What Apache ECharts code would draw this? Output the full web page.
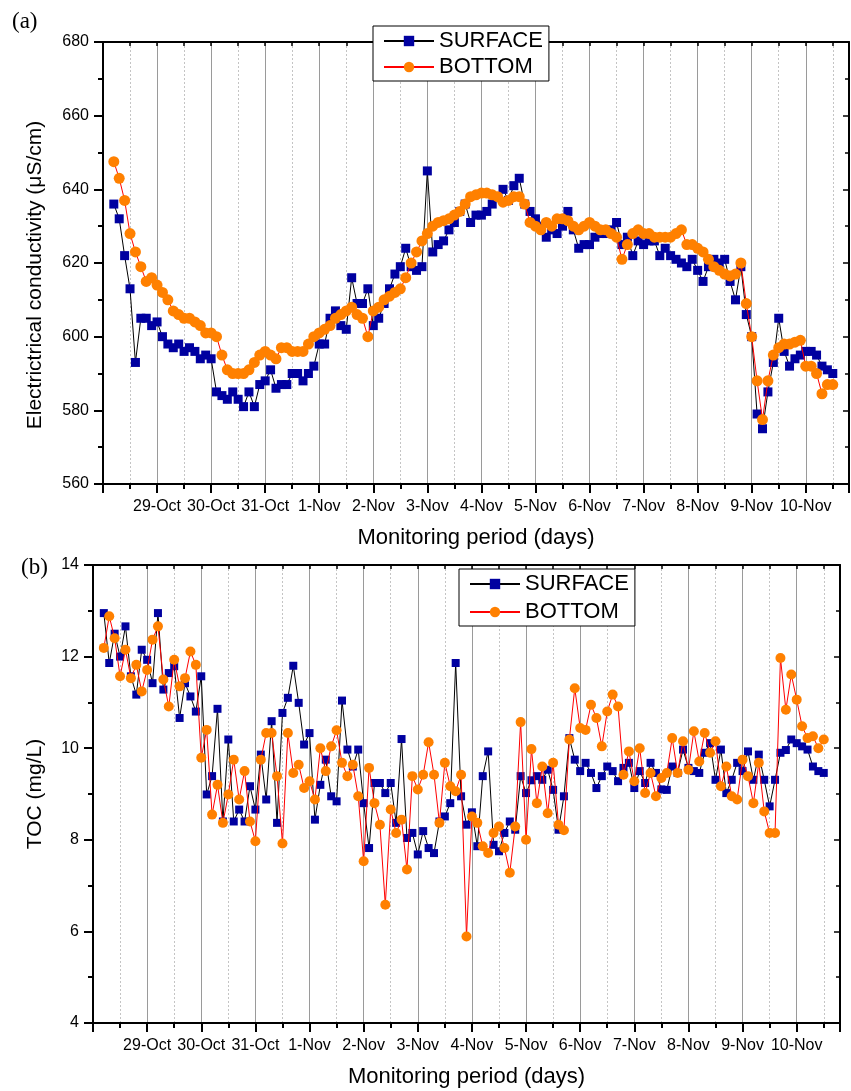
<!DOCTYPE html>
<html>
<head>
<meta charset="utf-8">
<script src="https://cdn.jsdelivr.net/npm/echarts@6.0.0/dist/echarts.min.js"></script>
<style>
  html, body { margin: 0; padding: 0; background: #fff; }
  #main { width: 851px; height: 1091px; }
</style>
</head>
<body>
<div id="main"></div>
<script>
// sampling: first sample at day 0.2 (28-Oct 00:00 = day 0), one sample every 0.1 day
var sampleStart = 0.2
var sampleStep = 0.1

// tick labels, index = day number
var dayLabels = ['', '29-Oct', '30-Oct', '31-Oct', '1-Nov', '2-Nov', '3-Nov', '4-Nov',
  '5-Nov', '6-Nov', '7-Nov', '8-Nov', '9-Nov', '10-Nov']

// (a) electrical conductivity, uS/cm
var ecSurface = [
  636, 632, 622, 613, 593, 605, 605, 603,
  604, 600, 598, 597, 598, 596, 597, 596, 594, 595,
  594, 585, 584, 583, 585, 583, 581, 585, 581, 587,
  588, 591, 586, 587, 587, 590, 590, 588, 590, 592,
  598, 598, 605, 607, 603, 602, 616, 609, 609, 613,
  603, 605, 609, 613, 617, 619, 624, 619, 618, 619,
  645, 623, 625, 626, 629, 631, 634, 636, 631, 633,
  633, 634, 636, 638, 640, 637, 641, 643, 636, 634,
  632, 630, 627, 629, 628, 630, 634, 629, 624, 625,
  625, 627, 628, 628, 629, 631, 625, 627, 622, 626,
  625, 626, 626, 622, 624, 622, 621, 620, 619, 621,
  618, 615, 619, 621, 620, 621, 615, 610, 619, 606,
  600, 579, 575, 585, 593, 605, 596, 592, 594, 595,
  596, 596, 595, 592, 591, 590
]
var ecBottom = [
  647.5, 643, 637, 628, 623, 619, 615, 616,
  614, 612, 610, 607, 606, 605, 605, 604, 603, 601,
  601, 600, 595, 591, 590, 590, 590, 591, 593, 595,
  596, 595, 594, 597, 597, 596, 596, 596, 598, 600,
  601, 602, 603, 605, 606, 607, 608, 606, 605, 600,
  607, 608, 610, 611, 612, 613, 616, 620, 623, 626,
  628, 630, 631, 631.5, 632, 633, 634, 636, 638, 638.5,
  639, 639, 638.5, 638, 636.5, 637, 638, 638, 636, 631,
  630, 629, 631, 630, 632, 632, 631.5, 630, 629, 630,
  631, 630, 629, 629, 628, 627, 621, 625, 628, 629,
  628, 628, 627, 627, 627, 627, 628, 629, 625, 625,
  624, 623, 621, 619, 618, 617, 616.5, 617, 620, 609,
  600, 588, 577.5, 588, 595, 597, 598, 598, 598.5, 599,
  592, 592, 590, 584.5, 587, 587
]

// (b) TOC, mg/L
var tocSurface = [
  12.95, 11.86, 12.5, 12.0, 12.66, 11.57, 11.17, 12.15,
  11.93, 11.42, 12.95, 11.28, 11.64, 11.79, 10.66, 11.42, 11.13, 10.8,
  11.57, 8.99, 9.39, 10.86, 8.4, 10.19, 8.4, 8.66, 8.4, 9.17,
  8.66, 9.86, 8.88, 10.59, 8.37, 10.77, 11.1, 11.8, 10.99, 10.08,
  10.33, 8.44, 9.2, 9.75, 8.95, 8.84, 11.04, 9.97, 9.6, 9.97,
  8.8, 7.82, 9.24, 9.24, 9.02, 9.24, 8.37, 10.2, 8.04, 8.15,
  7.68, 8.19, 7.82, 7.71, 8.4, 8.51, 8.8, 11.86, 8.95, 8.33,
  8.6, 7.86, 9.39, 9.93, 7.89, 7.75, 8.15, 8.4, 8.22, 9.39,
  9.02, 9.3, 9.39, 9.31, 9.53, 9.09, 8.22, 8.95, 10.22, 9.75,
  9.5, 9.68, 9.46, 9.13, 9.39, 9.6, 9.5, 9.28, 9.57, 9.68,
  9.13, 9.5, 9.24, 9.68, 9.46, 9.1, 9.09, 9.6, 9.46, 9.97,
  9.57, 9.5, 9.46, 9.9, 10.11, 9.31, 9.97, 9.02, 9.31, 9.68,
  9.5, 9.93, 9.31, 9.86, 9.31, 8.73, 9.31, 9.9, 9.96, 10.19,
  10.11, 10.04, 9.97, 9.6, 9.5, 9.46
]
var tocBottom = [
  12.19, 12.88, 12.4, 11.57, 12.15, 11.53, 11.82, 11.24,
  11.71, 12.37, 12.66, 11.5, 10.91, 11.93, 11.35, 11.53, 12.11, 11.82,
  9.79, 10.4, 8.55, 9.2, 8.37, 8.99, 9.75, 8.88, 9.5, 8.4,
  7.97, 9.75, 10.33, 10.33, 9.39, 7.92, 10.33, 9.46, 9.64, 9.13,
  9.28, 8.88, 10.0, 9.5, 10.04, 10.39, 9.68, 9.39, 9.64, 8.95,
  7.53, 9.57, 8.8, 8.33, 6.58, 8.66, 8.15, 8.44, 7.35, 9.39,
  9.1, 9.42, 10.13, 9.42, 8.37, 9.68, 9.17, 9.06, 9.42, 5.89,
  8.51, 8.37, 7.86, 7.71, 8.15, 8.29, 7.82, 7.28, 8.29, 10.57,
  8.0, 9.98, 8.8, 9.6, 8.58, 9.68, 8.33, 8.21, 10.19, 11.31,
  10.44, 10.4, 10.95, 10.66, 10.04, 10.8, 11.17, 10.91, 9.42, 9.93,
  9.28, 10.0, 9.02, 9.46, 8.95, 9.35, 9.46, 10.22, 9.46, 10.15,
  9.53, 10.37, 9.71, 10.33, 9.9, 10.15, 9.17, 9.6, 8.95, 8.88,
  9.75, 9.39, 8.8, 9.68, 8.62, 8.15, 8.15, 11.97, 10.84, 11.61,
  11.06, 10.48, 10.22, 10.26, 10.0, 10.19
]

function toPairs(values) {
  return values.map(function (v, i) {
    return [+(sampleStart + i * sampleStep).toFixed(2), v]
  })
}

var font = 'Liberation Sans, Arial, sans-serif'
var black = '#000'
var dayMax = 13.8

// grids 0,1 = panels (a),(b); grids 2,3 = same boxes again, only for the short half-day ticks
var gridBoxes = [
  { left: 103, top: 42, width: 746, height: 442 },
  { left: 93, top: 565, width: 747, height: 458 }
]

// main x axes: day axis at bottom, border axis at top (carries the dotted half-day grid)
function xAxes(grid, nameGap) {
  return [
    {
      type: 'value', gridIndex: grid, position: 'bottom', min: 0, max: dayMax, interval: 1,
      name: 'Monitoring period (days)', nameLocation: 'middle', nameGap: nameGap,
      nameTextStyle: { fontFamily: font, fontSize: 22, color: black },
      axisLine: { show: true, onZero: false, lineStyle: { color: black, width: 2 } },
      axisTick: { show: true, length: 9, lineStyle: { color: black, width: 2 } },
      axisLabel: {
        margin: 15, fontFamily: font, fontSize: 16, color: black,
        formatter: function (v) { return Number.isInteger(v) ? (dayLabels[v] || '') : '' }
      },
      splitLine: { show: true, lineStyle: { color: '#9a9a9a', width: 1 } }
    },
    {
      type: 'value', gridIndex: grid, position: 'top', min: 0, max: dayMax, interval: 0.5,
      axisLine: { show: true, onZero: false, lineStyle: { color: black, width: 2 } },
      axisTick: { show: true, inside: true, length: 4, lineStyle: { color: black, width: 1.5 } },
      axisLabel: { show: false },
      splitLine: { show: true, lineStyle: { color: ['rgba(0,0,0,0)', '#c4c4c4'], type: [2, 2], width: 1 } }
    }
  ]
}

function halfDayAxis(grid) {
  return {
    type: 'value', gridIndex: grid, position: 'bottom', min: 0, max: dayMax, interval: 0.5,
    axisLine: { show: false },
    axisTick: { show: true, length: 5, lineStyle: { color: black, width: 2 } },
    axisLabel: { show: false },
    splitLine: { show: false }
  }
}

function yAxes(grid, min, max, interval, name, nameGap, namePad) {
  return [
    {
      type: 'value', gridIndex: grid, position: 'left', min: min, max: max, interval: interval,
      name: name, nameLocation: 'middle', nameGap: nameGap,
      nameTextStyle: { fontFamily: font, fontSize: 21, color: black, padding: namePad },
      axisLine: { show: true, onZero: false, lineStyle: { color: black, width: 2 } },
      axisTick: { show: true, length: 9, lineStyle: { color: black, width: 2 } },
      minorTick: { show: true, splitNumber: 2, length: 5, lineStyle: { color: black, width: 2 } },
      axisLabel: { margin: 14, fontFamily: font, fontSize: 16, color: black },
      splitLine: { show: false }
    },
    {
      type: 'value', gridIndex: grid, position: 'right', min: min, max: max, interval: interval,
      axisLine: { show: true, onZero: false, lineStyle: { color: black, width: 2 } },
      axisTick: { show: true, inside: true, length: 6, lineStyle: { color: black, width: 1.5 } },
      minorTick: { show: true, splitNumber: 2, length: 4, lineStyle: { color: black, width: 1.5 } },
      axisLabel: { show: false },
      splitLine: { show: false }
    }
  ]
}

function hiddenY(grid) {
  return { type: 'value', gridIndex: grid, min: 0, max: 1, show: false }
}

function pair(xi, yi, surface, bottom, sqSize, ciSize) {
  return [
    {
      name: 'SURFACE', type: 'line', xAxisIndex: xi, yAxisIndex: yi,
      data: toPairs(surface), symbol: 'rect', symbolSize: sqSize, showAllSymbol: true,
      itemStyle: { color: '#0000a0', borderWidth: 0 },
      lineStyle: { color: '#000', width: 1 },
      emphasis: { disabled: true }, z: 3
    },
    {
      name: 'BOTTOM', type: 'line', xAxisIndex: xi, yAxisIndex: yi,
      data: toPairs(bottom), symbol: 'circle', symbolSize: ciSize, showAllSymbol: true,
      itemStyle: { color: '#ff8000', borderWidth: 0 },
      lineStyle: { color: '#ff0000', width: 1 },
      emphasis: { disabled: true }, z: 4
    }
  ]
}

function legend(left, top, gap) {
  return {
    left: left, top: top, orient: 'vertical',
    data: ['SURFACE', 'BOTTOM'],
    itemWidth: 50, itemHeight: 13, itemGap: gap,
    padding: [4, 6, 3, 10],
    borderColor: '#000', borderWidth: 1, backgroundColor: '#fff',
    textStyle: { fontFamily: font, fontSize: 22, color: black, lineHeight: 22 },
    selectedMode: false, z: 10
  }
}

var myChart = echarts.init(document.getElementById('main'), null, { renderer: 'canvas' })

var grids = gridBoxes.concat(gridBoxes).map(function (b) {
  return { left: b.left, top: b.top, width: b.width, height: b.height, outerBoundsMode: 'none' }
})

var option = {
  animation: false,
  backgroundColor: '#fff',
  title: [
    { text: '(a)', left: 7, top: 5, textStyle: { fontFamily: 'Liberation Serif, Times New Roman, serif', fontSize: 23, fontWeight: 'normal', color: black } },
    { text: '(b)', left: 16, top: 551, textStyle: { fontFamily: 'Liberation Serif, Times New Roman, serif', fontSize: 23, fontWeight: 'normal', color: black } }
  ],
  legend: [legend(373, 26, 4), legend(459, 569, 6)],
  grid: grids,
  // x: 0,1 panel (a); 2,3 panel (b); 4,5 half-day ticks
  xAxis: xAxes(0, 43).concat(xAxes(1, 43), [halfDayAxis(2), halfDayAxis(3)]),
  // y: 0,1 panel (a); 2,3 panel (b); 4,5 hidden
  yAxis: yAxes(0, 560, 680, 20, 'Electrictrical conductivity (μS/cm)', 57, [0, 24, 0, 0])
    .concat(yAxes(1, 4, 14, 2, 'TOC (mg/L)', 47, 0), [hiddenY(2), hiddenY(3)]),
  series: pair(0, 0, ecSurface, ecBottom, 9, 11).concat(pair(2, 2, tocSurface, tocBottom, 8, 10))
}
myChart.setOption(option)
</script>
</body>
</html>
